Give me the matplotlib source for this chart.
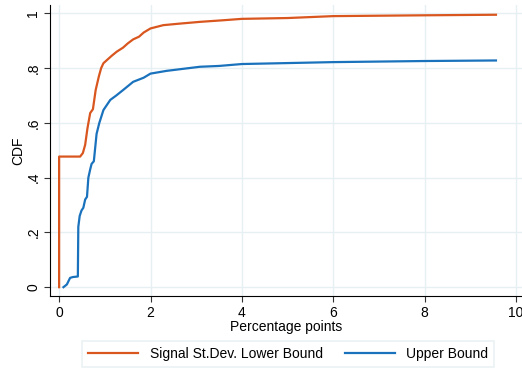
import matplotlib
matplotlib.use("Agg")
import matplotlib.pyplot as plt

plt.rcParams["font.family"] = ["Liberation Sans", "DejaVu Sans"]

# CDF of signal st.dev. bounds
lower_x = [0.0, 0.0, 0.46, 0.52, 0.57, 0.62, 0.68, 0.74, 0.80, 0.87, 0.92, 0.97,
           1.05, 1.15, 1.26, 1.40, 1.50, 1.62, 1.75, 1.85, 2.00, 2.28, 2.60, 3.08, 3.60, 4.00,
           5.00, 6.00, 8.00, 9.56]
lower_y = [0.0, 0.477, 0.477, 0.49, 0.52, 0.58, 0.636, 0.65, 0.72, 0.77, 0.80, 0.818,
           0.83, 0.845, 0.86, 0.875, 0.89, 0.905, 0.915, 0.93, 0.945, 0.957, 0.962, 0.969, 0.975, 0.980,
           0.983, 0.990, 0.993, 0.995]

upper_x = [0.095, 0.17, 0.24, 0.30, 0.41, 0.42, 0.45, 0.49, 0.53, 0.57, 0.61, 0.64,
           0.68, 0.71, 0.76, 0.82, 0.88, 0.97, 1.12, 1.25, 1.40, 1.62, 1.85, 2.00,
           2.35, 3.08, 3.50, 4.00, 6.00, 8.00, 9.56]
upper_y = [0.0, 0.01, 0.034, 0.037, 0.039, 0.22, 0.26, 0.28, 0.29, 0.32, 0.33, 0.40,
           0.43, 0.45, 0.46, 0.56, 0.60, 0.647, 0.684, 0.70, 0.72, 0.75, 0.765, 0.78,
           0.79, 0.805, 0.808, 0.815, 0.822, 0.826, 0.828]

x_ticks = [0, 2, 4, 6, 8, 10]
y_ticks = [0, 0.2, 0.4, 0.6, 0.8, 1.0]
y_labels = ["0", ".2", ".4", ".6", ".8", "1"]

orange = "#d9561f"
blue = "#1a72bd"
grid_col = "#e6eff1"

fig = plt.figure(figsize=(5.22, 3.69), dpi=100)
ax = fig.add_axes([0.096, 0.198, 0.904, 0.788])

ax.plot(lower_x, lower_y, color=orange, lw=1.6, label="Signal St.Dev. Lower Bound")
ax.plot(upper_x, upper_y, color=blue, lw=1.6, label="Upper Bound")

ax.set_xlim(-0.197, 10.13)
ax.set_ylim(-0.032, 1.03)
ax.set_xticks(x_ticks)
ax.set_yticks(y_ticks)
ax.set_yticklabels(y_labels, rotation=90, va="center")
ax.tick_params(labelsize=10, length=4, color="#333333", pad=3)
ax.grid(True, color=grid_col, lw=1)
ax.set_axisbelow(True)
for s in ["top", "right"]:
    ax.spines[s].set_visible(False)

ax.set_xlabel("Percentage points", fontsize=10, labelpad=0)
ax.set_ylabel("CDF", fontsize=10, labelpad=1)

leg = fig.legend(loc="lower center", bbox_to_anchor=(0.552, -0.014), ncol=2, fontsize=10,
                 frameon=True, fancybox=False, edgecolor=grid_col, handlelength=3.6,
                 columnspacing=1.6, borderpad=0.45)
leg.get_frame().set_linewidth(1.2)

fig.savefig("out.png", dpi=100)
